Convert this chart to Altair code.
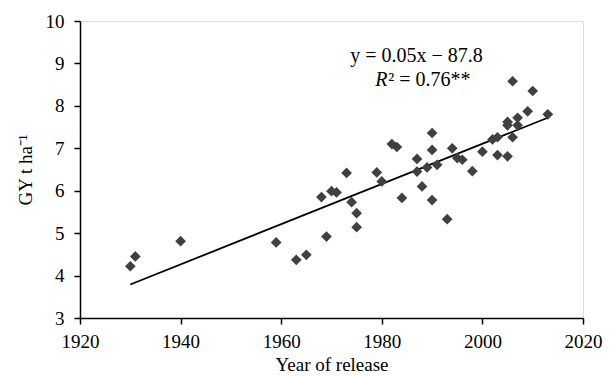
import altair as alt
import pandas as pd

years = [1930, 1931, 1940, 1959, 1963, 1965, 1968, 1969, 1970, 1971, 1973, 1974, 1975, 1975,
         1979, 1980, 1982, 1983, 1984, 1987, 1987, 1988, 1989, 1990, 1990, 1990, 1991, 1993,
         1994, 1995, 1996, 1998, 2000, 2002, 2003, 2003, 2005, 2005, 2005, 2006, 2006, 2007,
         2007, 2009, 2010, 2013]
gy = [4.22, 4.45, 4.81, 4.78, 4.37, 4.49, 5.85, 4.92, 5.99, 5.96, 6.42, 5.73, 5.47, 5.14,
      6.43, 6.22, 7.10, 7.03, 5.83, 6.75, 6.45, 6.10, 6.55, 7.36, 6.96, 5.78, 6.61, 5.33,
      7.00, 6.77, 6.73, 6.46, 6.92, 7.21, 7.26, 6.84, 6.81, 7.62, 7.54, 8.58, 7.26, 7.72,
      7.54, 7.87, 8.35, 7.80]

line_years = [1930, 2013]
line_gy = [3.79, 7.72]

x_ticks = [1920, 1940, 1960, 1980, 2000, 2020]
y_ticks = [3, 4, 5, 6, 7, 8, 9, 10]

pts = pd.DataFrame({"year": years, "gy": gy})
fit = pd.DataFrame({"year": line_years, "gy": line_gy})

FONT = "Liberation Serif"

xscale = alt.Scale(domain=[1920, 2020], nice=False, zero=False)
yscale = alt.Scale(domain=[3, 10], nice=False, zero=False)

xax = alt.Axis(values=x_ticks, format="d", title="Year of release", grid=False,
               tickSize=6, labelPadding=8, titlePadding=4, labelFlush=False,
               domainColor="black", tickColor="black", labelColor="black",
               titleColor="black", labelFont=FONT, titleFont=FONT,
               labelFontSize=19, titleFontSize=19, titleFontWeight="normal",
               domainWidth=1.5, tickWidth=1.5)
yax = alt.Axis(values=y_ticks, title="GY t ha⁻¹", grid=False,
               tickSize=6, labelPadding=10, titlePadding=10, labelFlush=False,
               domainColor="black", tickColor="black", labelColor="black",
               titleColor="black", labelFont=FONT, titleFont=FONT,
               labelFontSize=19, titleFontSize=19, titleFontWeight="normal",
               domainWidth=1.5, tickWidth=1.5)

points = alt.Chart(pts).mark_point(shape="diamond", filled=True, size=115,
                                   color="#404040", opacity=1).encode(
    x=alt.X("year:Q", scale=xscale, axis=xax),
    y=alt.Y("gy:Q", scale=yscale, axis=yax),
)

line = alt.Chart(fit).mark_line(color="black", strokeWidth=1.8).encode(
    x=alt.X("year:Q", scale=xscale),
    y=alt.Y("gy:Q", scale=yscale),
)

ann = pd.DataFrame({"year": [1986.9], "gy": [9.17], "t": ["y = 0.05x − 87.8"]})
eq = alt.Chart(ann).mark_text(font=FONT, fontSize=20, color="black", align="center",
                              baseline="middle").encode(
    x=alt.X("year:Q", scale=xscale), y=alt.Y("gy:Q", scale=yscale), text="t:N")

rr = pd.DataFrame({"year": [1978.7], "gy": [8.62], "t": ["R"]})
r_lab = alt.Chart(rr).mark_text(font=FONT, fontSize=20, fontStyle="italic", color="black",
                                align="left", baseline="middle").encode(
    x=alt.X("year:Q", scale=xscale), y=alt.Y("gy:Q", scale=yscale), text="t:N")

rr2 = pd.DataFrame({"year": [1981.3], "gy": [8.62], "t": ["² = 0.76**"]})
r_rest = alt.Chart(rr2).mark_text(font=FONT, fontSize=20, color="black",
                                  align="left", baseline="middle").encode(
    x=alt.X("year:Q", scale=xscale), y=alt.Y("gy:Q", scale=yscale), text="t:N")

chart = alt.layer(line, points, eq, r_lab, r_rest).properties(
    width=503, height=297,
    autosize=alt.AutoSizeParams(type="none"),
    padding={"left": 72, "top": 13, "right": 20, "bottom": 55},
).configure_view(stroke=None).configure(background="white")

chart.save("out.html", embed_options={"renderer": "svg", "actions": False})
